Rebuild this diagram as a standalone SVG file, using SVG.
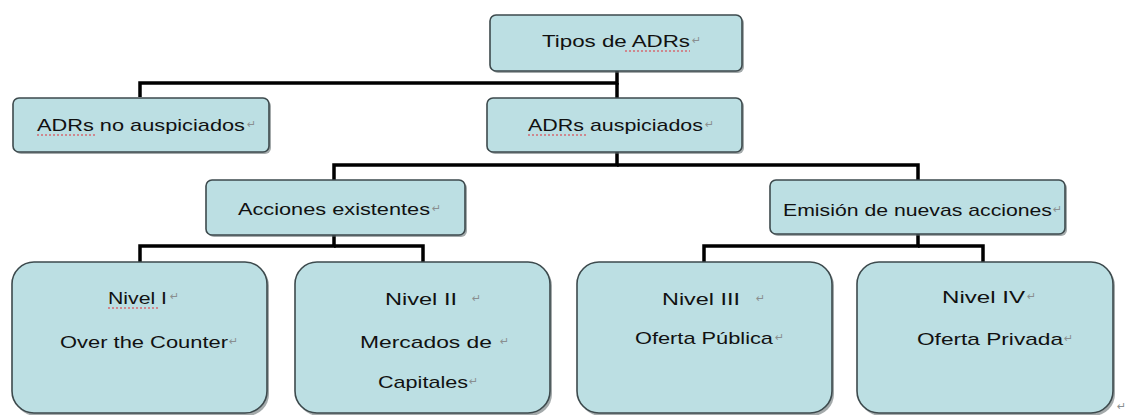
<svg xmlns="http://www.w3.org/2000/svg" width="1131" height="415" viewBox="0 0 1131 415">
<style>
  .shadow { fill: #5a6466; opacity: 0.55; }
  .box { fill: #bcdfe3; stroke: #3d4a4d; stroke-width: 1.6; }
  .t { font-family: "Liberation Sans", Arial, sans-serif; font-size: 17px; fill: #111; }
  .pm { font-family: "DejaVu Sans", sans-serif; font-size: 11px; fill: #8a8f90; }
  .sq { fill: none; stroke: #e0303a; stroke-width: 1.2; stroke-dasharray: 2 2; }
  .conn { fill: none; stroke: #000; stroke-width: 3.5; }
</style>
<rect width="1131" height="415" fill="#ffffff"/>

<g id="connectors">
  <path class="conn" d="M617 71 V83 H140 V97"/>
  <path class="conn" d="M617 83 V98"/>
  <path class="conn" d="M617 152 V165 H334 V180"/>
  <path class="conn" d="M617 165 H918 V180"/>
  <path class="conn" d="M334 235 V246 H140 V262"/>
  <path class="conn" d="M334 246 H423 V262"/>
  <path class="conn" d="M918 234 V246 H704 V262"/>
  <path class="conn" d="M918 246 H983 V262"/>
</g>

<g id="tipos">
  <rect class="shadow" x="492" y="17" width="252" height="56" rx="6"/>
  <rect class="box" x="490" y="15" width="252" height="56" rx="6"/>
  <text class="t" x="542" y="47" textLength="148" lengthAdjust="spacingAndGlyphs">Tipos de ADRs</text>
  <text class="pm" x="692" y="44">↵</text>
  <path class="sq" d="M625 51 H690"/>
</g>

<g id="no-auspiciados">
  <rect class="shadow" x="15" y="100" width="256" height="54" rx="6"/>
  <rect class="box" x="13" y="98" width="256" height="54" rx="6"/>
  <text class="t" x="37" y="131" textLength="208" lengthAdjust="spacingAndGlyphs">ADRs no auspiciados</text>
  <text class="pm" x="247" y="128">↵</text>
  <path class="sq" d="M37 135 H97"/>
</g>

<g id="auspiciados">
  <rect class="shadow" x="489" y="100" width="255" height="54" rx="6"/>
  <rect class="box" x="487" y="98" width="255" height="54" rx="6"/>
  <text class="t" x="528" y="131" textLength="175" lengthAdjust="spacingAndGlyphs">ADRs auspiciados</text>
  <text class="pm" x="705" y="128">↵</text>
  <path class="sq" d="M528 135 H588"/>
</g>

<g id="existentes">
  <rect class="shadow" x="208" y="182" width="259" height="55" rx="6"/>
  <rect class="box" x="206" y="180" width="259" height="55" rx="6"/>
  <text class="t" x="238" y="215" textLength="192" lengthAdjust="spacingAndGlyphs">Acciones existentes</text>
  <text class="pm" x="432" y="212">↵</text>
</g>

<g id="nuevas">
  <rect class="shadow" x="772" y="182" width="295" height="54" rx="6"/>
  <rect class="box" x="770" y="180" width="295" height="54" rx="6"/>
  <text class="t" x="783" y="216" textLength="269" lengthAdjust="spacingAndGlyphs">Emisión de nuevas acciones</text>
  <text class="pm" x="1053" y="213">↵</text>
</g>

<g id="nivel1">
  <rect class="shadow" x="14" y="264" width="255" height="152" rx="22"/>
  <rect class="box" x="12" y="262" width="255" height="151" rx="22"/>
  <text class="t" x="108" y="304" textLength="59" lengthAdjust="spacingAndGlyphs">Nivel I</text>
  <text class="pm" x="170" y="300">↵</text>
  <path class="sq" d="M108 308 H160"/>
  <text class="t" x="60" y="348" textLength="168" lengthAdjust="spacingAndGlyphs">Over the Counter</text>
  <text class="pm" x="229" y="345">↵</text>
</g>

<g id="nivel2">
  <rect class="shadow" x="297" y="264" width="255" height="152" rx="22"/>
  <rect class="box" x="295" y="262" width="255" height="151" rx="22"/>
  <text class="t" x="385" y="305" textLength="72" lengthAdjust="spacingAndGlyphs">Nivel II</text>
  <text class="pm" x="472" y="302">↵</text>
  <text class="t" x="360" y="348" textLength="132" lengthAdjust="spacingAndGlyphs">Mercados de</text>
  <text class="pm" x="500" y="345">↵</text>
  <text class="t" x="378" y="388" textLength="90" lengthAdjust="spacingAndGlyphs">Capitales</text>
  <text class="pm" x="469" y="385">↵</text>
</g>

<g id="nivel3">
  <rect class="shadow" x="579" y="264" width="255" height="152" rx="22"/>
  <rect class="box" x="577" y="262" width="255" height="151" rx="22"/>
  <text class="t" x="662" y="305" textLength="78" lengthAdjust="spacingAndGlyphs">Nivel III</text>
  <text class="pm" x="756" y="302">↵</text>
  <text class="t" x="635" y="344" textLength="138" lengthAdjust="spacingAndGlyphs">Oferta Pública</text>
  <text class="pm" x="775" y="341">↵</text>
</g>

<g id="nivel4">
  <rect class="shadow" x="859" y="264" width="256" height="152" rx="22"/>
  <rect class="box" x="857" y="262" width="256" height="151" rx="22"/>
  <text class="t" x="942" y="303" textLength="83" lengthAdjust="spacingAndGlyphs">Nivel IV</text>
  <text class="pm" x="1027" y="300">↵</text>
  <text class="t" x="917" y="345" textLength="146" lengthAdjust="spacingAndGlyphs">Oferta Privada</text>
  <text class="pm" x="1064" y="342">↵</text>
</g>

<text class="pm" x="1117" y="410">↵</text>
</svg>
